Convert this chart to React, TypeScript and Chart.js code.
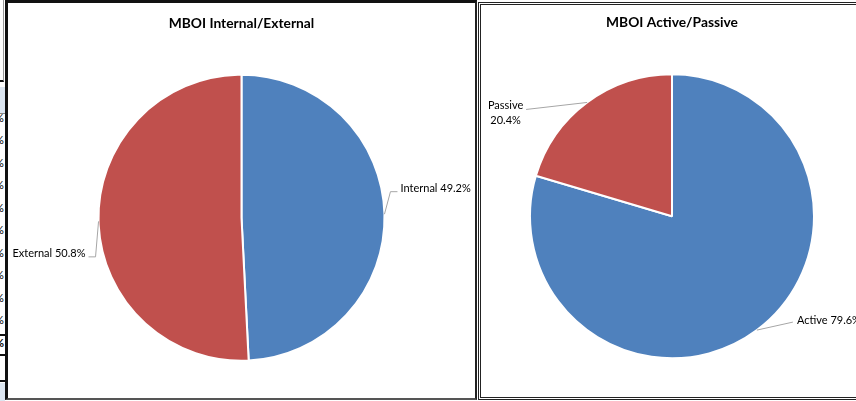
import React, { useEffect, useRef } from "react";
import { Chart, registerables } from "chart.js";

Chart.register(...registerables);

// ---- data ----
const leftTitle = "MBOI Internal/External";
const leftLabels = ["Internal", "External"];
const leftValues = [49.2, 50.8];

const rightTitle = "MBOI Active/Passive";
const rightLabels = ["Active", "Passive"];
const rightValues = [79.6, 20.4];

const sliceColors = ["#4F81BD", "#C0504D"];

const FONT = "Lato, 'Open Sans', sans-serif";

type LabelCfg = {
  leader: [number, number][];
  text: [number, number];
  align: CanvasTextAlign;
  twoLines?: boolean;
};

const leaderPlugin = {
  id: "leaderLabels",
  afterDatasetsDraw(chart: any, _args: any, opts: any) {
    const ctx: CanvasRenderingContext2D = chart.ctx;
    const meta = chart.getDatasetMeta(0);
    const ds = chart.data.datasets[0];
    const labels = chart.data.labels as string[];
    meta.data.forEach((arc: any, i: number) => {
      const cfg: LabelCfg = opts.items[i];
      if (!cfg) return;
      const p = arc.getProps(["x", "y", "startAngle", "endAngle", "outerRadius"], true);
      const mid = (p.startAngle + p.endAngle) / 2;
      const ax = p.x + Math.cos(mid) * p.outerRadius;
      const ay = p.y + Math.sin(mid) * p.outerRadius;
      ctx.save();
      ctx.strokeStyle = "#A6A6A6";
      ctx.lineWidth = 1;
      ctx.beginPath();
      ctx.moveTo(ax, ay);
      cfg.leader.forEach(([dx, dy]) => ctx.lineTo(ax + dx, ay + dy));
      ctx.stroke();
      ctx.fillStyle = "#000";
      ctx.font = `11px ${FONT}`;
      ctx.textAlign = cfg.align;
      ctx.textBaseline = "middle";
      const val = `${Number(ds.data[i]).toFixed(1)}%`;
      const lines = cfg.twoLines ? [labels[i], val] : [`${labels[i]} ${val}`];
      lines.forEach((t, k) => ctx.fillText(t, ax + cfg.text[0], ay + cfg.text[1] + k * 15));
      ctx.restore();
    });
  },
};

function PieChart(props: {
  title: string;
  labels: string[];
  values: number[];
  radius: number;
  titlePad: { top: number; bottom: number };
  layoutPad: { left: number; right: number; top: number; bottom: number };
  items: LabelCfg[];
  width: number;
  height: number;
}) {
  const ref = useRef<HTMLCanvasElement>(null);
  useEffect(() => {
    if (!ref.current) return;
    const chart = new Chart(ref.current, {
      type: "pie",
      data: {
        labels: props.labels,
        datasets: [
          {
            data: props.values,
            backgroundColor: sliceColors,
            borderColor: "#FFFFFF",
            borderWidth: 2,
          },
        ],
      },
      options: {
        responsive: false,
        animation: false,
        radius: props.radius,
        layout: { padding: props.layoutPad },
        plugins: {
          legend: { display: false },
          tooltip: { enabled: false },
          title: {
            display: true,
            text: props.title,
            color: "#000",
            font: { family: FONT, size: 13.8, weight: "bold" },
            padding: props.titlePad,
          },
          leaderLabels: { items: props.items },
        } as any,
      } as any,
      plugins: [leaderPlugin],
    });
    return () => chart.destroy();
  }, []);
  return <canvas ref={ref} width={props.width} height={props.height} style={{ display: "block" }} />;
}

const pctRows = [118, 140, 163, 185, 208, 230, 253, 275, 298, 320, 343];

export default function App() {
  return (
    <div
      style={{
        position: "fixed",
        left: 0,
        top: 0,
        width: 856,
        height: 401,
        overflow: "hidden",
        background: "#fff",
      }}
    >
      {/* spreadsheet fragments on the left */}
      <div style={{ position: "absolute", left: -10, top: -2, width: 13, height: 82, borderRight: "1px solid #999", borderBottom: "2px solid #111" }} />
      <div style={{ position: "absolute", left: 0, top: 87, width: 5, height: 26, background: "#DCE6F1", borderBottom: "1px solid #888" }} />
      {pctRows.map((y, i) => (
        <div
          key={i}
          style={{
            position: "absolute",
            left: -5,
            top: y - 7,
            fontFamily: FONT,
            fontSize: 11,
            lineHeight: "14px",
            fontWeight: i === pctRows.length - 1 ? "bold" : "normal",
          }}
        >
          %
        </div>
      ))}
      <div style={{ position: "absolute", left: -2, top: 334, width: 7, height: 18, border: "2px solid #111" }} />
      <div style={{ position: "absolute", left: 0, top: 380, width: 5, height: 2, background: "#111" }} />
      <div style={{ position: "absolute", left: 0, top: 383, width: 5, height: 18, background: "#DCE6F1" }} />

      {/* left chart box */}
      <div
        style={{
          position: "absolute",
          left: 5,
          top: 0,
          width: 472,
          height: 400,
          boxSizing: "border-box",
          borderTop: "3px solid #111",
          borderLeft: "3px solid #111",
          borderRight: "2px solid #222",
          borderBottom: "2px solid #555",
          background: "#fff",
        }}
      >
        <PieChart
          title={leftTitle}
          labels={leftLabels}
          values={leftValues}
          radius={143}
          width={467}
          height={395}
          titlePad={{ top: 12, bottom: 44 }}
          layoutPad={{ left: 0, right: 0, top: 0, bottom: 38 }}
          items={[
            { leader: [[6, -22.5], [13, -22.5]], text: [16, -26], align: "left" },
            { leader: [[-3, 35.5], [-10, 35.5]], text: [-13, 32.5], align: "right" },
          ]}
        />
      </div>

      {/* right chart box */}
      <div
        style={{
          position: "absolute",
          left: 478,
          top: 2,
          width: 400,
          height: 398,
          boxSizing: "border-box",
          border: "3px double #222",
          background: "#fff",
        }}
      >
        <PieChart
          title={rightTitle}
          labels={rightLabels}
          values={rightValues}
          radius={142}
          width={382}
          height={392}
          titlePad={{ top: 9, bottom: 44 }}
          layoutPad={{ left: 0, right: 0, top: 0, bottom: 39 }}
          items={[
            { leader: [[36, -8]], text: [40, -10], align: "left" },
            { leader: [[-61, 7]], text: [-81.5, 3], align: "center", twoLines: true },
          ]}
        />
      </div>
    </div>
  );
}
